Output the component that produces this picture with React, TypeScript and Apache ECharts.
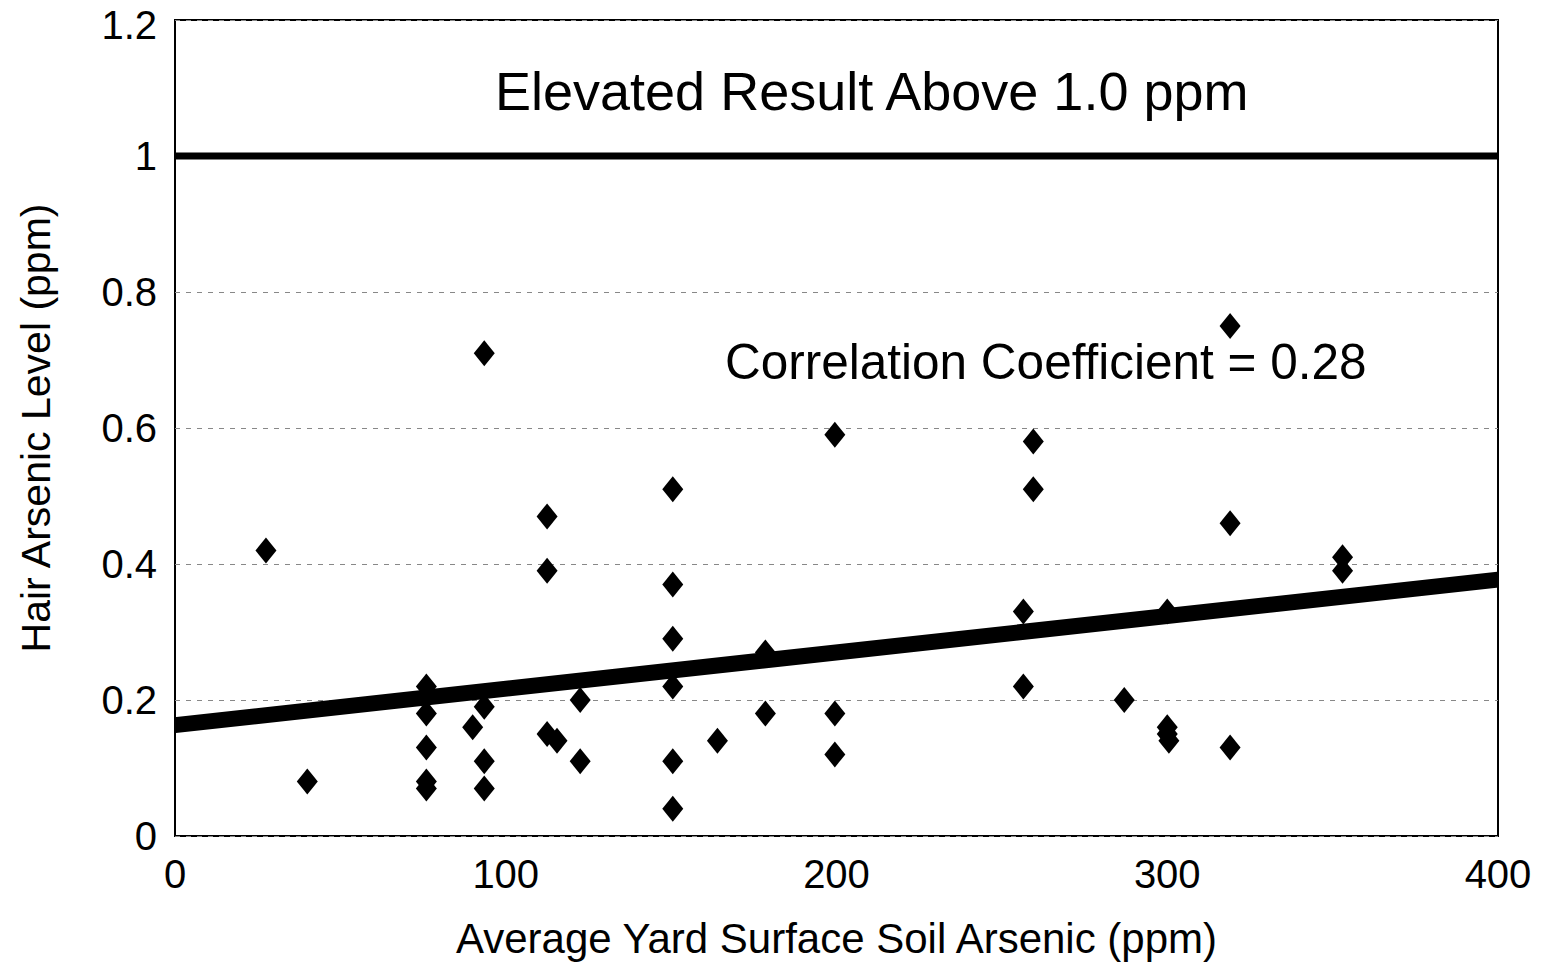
import React, { useEffect, useRef } from "react";
import * as echarts from "echarts";

const soilArsenic = [
  27.5, 40, 76, 76, 76, 76, 76, 90, 93.5, 93.5, 93.5, 93.5,
  112.5, 112.5, 112.5, 115.5, 122.5, 122.5,
  150.5, 150.5, 150.5, 150.5, 150.5, 150.5, 164, 178.5, 178.5,
  199.5, 199.5, 199.5, 256.5, 256.5, 259.5, 259.5, 287, 300, 300, 300, 300.5,
  319, 319, 319, 353, 353,
];
const hairArsenic = [
  0.42, 0.08, 0.22, 0.18, 0.13, 0.08, 0.07, 0.16, 0.71, 0.19, 0.11, 0.07,
  0.47, 0.39, 0.15, 0.14, 0.2, 0.11,
  0.51, 0.37, 0.29, 0.22, 0.11, 0.04, 0.14, 0.27, 0.18,
  0.59, 0.18, 0.12, 0.33, 0.22, 0.58, 0.51, 0.2, 0.33, 0.16, 0.15, 0.14,
  0.75, 0.46, 0.13, 0.41, 0.39,
];
const trendX = [0, 400];
const trendY = [0.163, 0.377];
const thresholdX = [0, 400];
const thresholdY = [1.0, 1.0];
const xTicks = [0, 100, 200, 300, 400];
const yTicks = [0, 0.2, 0.4, 0.6, 0.8, 1, 1.2];

const FONT = "Liberation Sans, Arial, Helvetica, sans-serif";

export default function App() {
  const ref = useRef<HTMLDivElement>(null);
  useEffect(() => {
    if (!ref.current) return;
    const chart = echarts.init(ref.current, null, { renderer: "svg" });
    const points = soilArsenic.map((x, i) => [x, hairArsenic[i]]);
    const yMax = yTicks[yTicks.length - 1];
    chart.setOption({
      animation: false,
      backgroundColor: "#ffffff",
      textStyle: { fontFamily: FONT },
      grid: {
        left: 175,
        right: 45,
        top: 20,
        bottom: 129,
        containLabel: false,
        outerBoundsMode: "none",
        show: true,
        borderColor: "#000",
        borderWidth: 2,
      },
      xAxis: {
        type: "value",
        min: xTicks[0],
        max: xTicks[xTicks.length - 1],
        interval: 100,
        axisLine: { show: false },
        axisTick: { show: false },
        splitLine: { show: false },
        axisLabel: { color: "#000", fontSize: 40, fontFamily: FONT, margin: 18, lineHeight: 40 },
        name: "Average Yard Surface Soil Arsenic (ppm)",
        nameLocation: "middle",
        nameGap: 80,
        nameTextStyle: { color: "#000", fontSize: 42, fontFamily: FONT, lineHeight: 44 },
      },
      yAxis: {
        type: "value",
        min: yTicks[0],
        max: yMax,
        interval: 0.2,
        axisLine: { show: false },
        axisTick: { show: false },
        splitLine: {
          show: true,
          lineStyle: { color: "#888", type: [5, 6], width: 1 },
        },
        axisLabel: {
          color: "#000",
          fontSize: 40,
          fontFamily: FONT,
          margin: 18,
          lineHeight: 34,
          formatter: (v: number) => {
            const s = String(Math.round(v * 10) / 10);
            return Math.abs(v - yMax) < 1e-9 ? `{top|${s}}` : s;
          },
          rich: {
            top: { fontSize: 40, fontFamily: FONT, color: "#000", lineHeight: 30, padding: [10, 0, 0, 0] },
          },
        },
        name: "Hair Arsenic Level (ppm)",
        nameLocation: "middle",
        nameGap: 117,
        nameTextStyle: { color: "#000", fontSize: 41, fontFamily: FONT, lineHeight: 44 },
      },
      series: [
        {
          type: "line",
          data: thresholdX.map((x, i) => [x, thresholdY[i]]),
          symbol: "none",
          lineStyle: { color: "#000", width: 7 },
          z: 3,
        },
        {
          type: "line",
          data: trendX.map((x, i) => [x, trendY[i]]),
          symbol: "none",
          lineStyle: { color: "#000", width: 16 },
          z: 3,
        },
        {
          type: "scatter",
          data: points,
          symbol: "diamond",
          symbolSize: [21, 26],
          itemStyle: { color: "#000", opacity: 1 },
          z: 4,
        },
      ],
      graphic: [
        {
          type: "text",
          left: 495,
          top: 64,
          style: { text: "Elevated Result Above 1.0 ppm", font: `54px ${FONT}`, fill: "#000" },
        },
        {
          type: "text",
          left: 725,
          top: 336,
          style: { text: "Correlation Coefficient = 0.28", font: `49.5px ${FONT}`, fill: "#000" },
        },
      ],
    });
    return () => chart.dispose();
  }, []);
  return (
    <div
      ref={ref}
      style={{ position: "fixed", left: 0, top: 0, width: 1543, height: 965, background: "#fff" }}
    />
  );
}
